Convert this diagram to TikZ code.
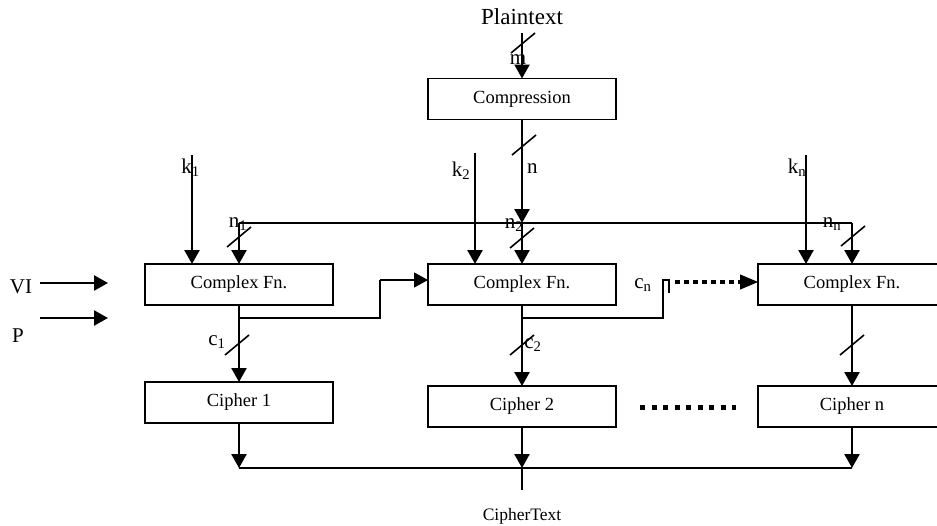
\documentclass[tikz,border=0pt]{standalone}
\usepackage{fontspec}
\setmainfont{Liberation Serif}
\usetikzlibrary{arrows.meta, positioning, calc}
\tikzstyle{block} = [rectangle, draw=black, line width=1.8pt, minimum width=188pt, minimum height=41pt, inner sep=0pt, outer sep=0pt, font=\fontsize{18.5}{21}\selectfont]
\tikzstyle{lbl} = [inner sep=0pt, anchor=base, font=\fontsize{21}{24}\selectfont]
\tikzstyle{headed} = [-{Triangle[length=14pt,width=15pt]}]
\tikzstyle{wire} = [line width=2.5pt, headed]
\tikzstyle{thinwire} = [line width=1.4pt]
\tikzstyle{slash} = [line width=1.6pt]
\tikzstyle{dotwire} = [line width=4.5pt, dash pattern=on 4.5pt off 4.5pt]
\newcommand{\busmark}[1]{\draw[slash] (#1) ++(-12,10) -- ++(24,-20);}

\begin{document}
\begin{tikzpicture}[x=1pt, y=-1pt]
\useasboundingbox (0,0) rectangle (937,525);
% boxes
\node (comp) [block] at (522,99) {Compression};
\node (cfn1) [block] at (239,284.5) {Complex Fn.};
\node (cfn2) [block, right=95pt of cfn1] {Complex Fn.};
\node (cfn3) [block, right=142pt of cfn2] {Complex Fn.};
\node (cip1) [block] at (239,402.5) {Cipher 1};
\node (cip2) [block, right=95pt of cip1, yshift=-4pt] {Cipher 2};
\node (cipn) [block, right=142pt of cip2] {Cipher n};

% texts
\node (plain) [lbl, font=\fontsize{23}{26}\selectfont] at (522,24) {Plaintext};
\node (ctext) [lbl, font=\fontsize{17.5}{20}\selectfont] at (522,520) {CipherText};
\node (vi) [lbl] at (21,293) {VI};
\node (p) [lbl] at (18,342) {P};
\node (lm) [lbl] at (518,64) {m};
\node (ln) [lbl, anchor=base west] at (527,173) {n};
\node (lk1) [lbl] at (190.5,173) {k\textsubscript{1}};
\node (lk2) [lbl] at (461,176) {k\textsubscript{2}};
\node (lkn) [lbl] at (797,173) {k\textsubscript{n}};
\node (ln1) [lbl] at (238,227) {n\textsubscript{1}};
\node (ln2) [lbl] at (514,228) {n\textsubscript{2}};
\node (lnn) [lbl] at (832,227) {n\textsubscript{n}};
\node (lc1) [lbl] at (217,345) {c\textsubscript{1}};
\node (lc2) [lbl] at (533,348) {c\textsubscript{2}};
\node (lcn) [lbl] at (643,288) {c\textsubscript{n}};

% free ends
\coordinate (ptop) at (522,33);
\coordinate (j1) at (239,223);
\coordinate (j2) at (522,223);
\coordinate (jn) at (852,223);
\coordinate (k1) at (192,155);
\coordinate (k2) at (475,153);
\coordinate (kn) at (806,155);
\coordinate (vis) at (40,283);
\coordinate (vie) at (108,283);
\coordinate (ps) at (40,318);
\coordinate (pe) at (108,318);
\coordinate (b1) at (239,318);
\coordinate (t1) at (380,280);
\coordinate (b2) at (522,318);
\coordinate (t2) at (663,280);
\coordinate (o1) at (239,468);
\coordinate (o2) at (522,468);
\coordinate (on) at (852,468);
\coordinate (oend) at (522,490);
\coordinate (d1) at (640,407);
\coordinate (d2) at (736,407);

% plaintext path
\draw[wire] (ptop) -- (comp.north);
\draw[wire] (comp.south) -- (j2);
\draw[wire] (j2) -- (cfn2.north);
\draw[thinwire] (j1) -- (jn);
\draw[wire] (j1) -- (cfn1.north);
\draw[wire] (jn) -- (cfn3.north);

% keys
\draw[wire] (k1) -- (k1 |- cfn1.north);
\draw[wire] (k2) -- (k2 |- cfn2.north);
\draw[wire] (kn) -- (kn |- cfn3.north);

% VI and P
\draw[wire] (vis) -- (vie);
\draw[wire] (ps) -- (pe);

% chaining
\draw[thinwire] (b1) -| (t1);
\draw[thinwire, headed] (t1) -- (t1 -| cfn2.west);
\draw[thinwire] (b2) -| (t2) -- ++(6,0) -- ++(0,13);
\draw[dotwire] ($(t2)+(12,2)$) -- ($(t2 -| cfn3.west)+(-17,2)$);
\draw[line width=1pt, -{Triangle[length=18pt,width=15pt]}] ($(t2 -| cfn3.west)+(-19,2)$) -- ($(t2 -| cfn3.west)+(0,2)$);

% ciphers
\draw[wire] (cfn1.south) -- (cip1.north);
\draw[wire] (cfn2.south) -- (cip2.north);
\draw[wire] (cfn3.south) -- (cipn.north);
\draw[wire] (cip1.south) -- (o1);
\draw[wire] (cip2.south) -- (o2);
\draw[wire] (cipn.south) -- (on);
\draw[thinwire] (o1) -- (on);
\draw[line width=2.5pt] (o2) -- (oend);
\draw[line width=5pt, dash pattern=on 5pt off 6.5pt] (d1) -- (d2);

% bus width marks
\busmark{523,43}
\busmark{524,145}
\busmark{522,238}
\busmark{239,237}
\busmark{853,236}
\busmark{237,345}
\busmark{522,345}
\busmark{852,345}
\end{tikzpicture}
\end{document}
